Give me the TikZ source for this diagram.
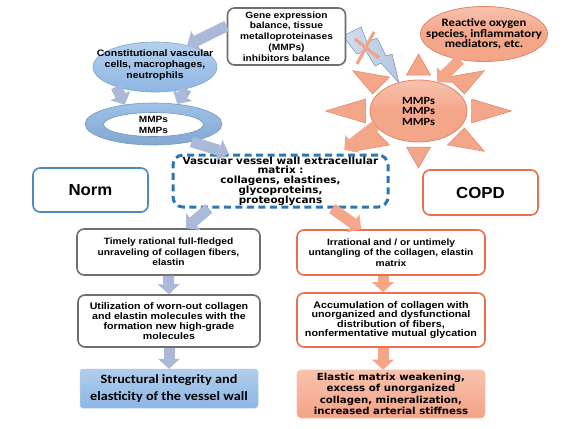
\documentclass[tikz,border=0pt]{standalone}
\usepackage{fontspec}
\usetikzlibrary{shapes.geometric,arrows.meta,calc}
\newfontfamily\fa{Liberation Sans}[FakeStretch=1.12]
\newfontfamily\fnc{Liberation Sans}[FakeStretch=1.05]
\newfontfamily\fc{Carlito}[FakeStretch=1.12]
\newfontfamily\fd{DejaVu Sans}[FakeStretch=1.05]
\definecolor{salm}{HTML}{F4A689}
\definecolor{salmlt}{HTML}{F8C2AE}
\definecolor{salmd}{HTML}{E38466}
\definecolor{salmb}{HTML}{E8704E}
\definecolor{bgray}{HTML}{A9B9D7}
\definecolor{lblue}{HTML}{8DB6E3}
\definecolor{lbluelt}{HTML}{B5D0EE}
\definecolor{dblue}{HTML}{2E75B6}
\definecolor{gbord}{HTML}{6E6E6E}
\definecolor{boltc}{HTML}{B3C7E5}
\begin{document}
\begin{tikzpicture}[x=1pt,y=-1pt,
  txt/.style={font=\fa\bfseries\fontsize{9.6}{10}\selectfont, align=center, inner sep=0pt},
  graybox/.style={draw=gbord, line width=1.6pt, rounded corners=7pt, fill=white, inner sep=0pt, align=center},
  salmbox/.style={draw=salmb, line width=1.6pt, rounded corners=7pt, fill=white, inner sep=0pt, align=center},
  salmell/.style={ellipse, draw=salmd, line width=0.8pt, top color=salmlt, bottom color=salm, middle color=salm, inner sep=0pt},
  blueell/.style={ellipse, draw=lblue!90!black, line width=0.6pt, top color=lbluelt, bottom color=lblue, inner sep=0pt},
  sunray/.style={fill=salm, draw=salmd, line width=0.5pt},
  barrow/.style={line width=11pt, draw=#1, -{Triangle[width=22pt,length=10pt,line width=0pt]}},
]
\useasboundingbox (0,0) rectangle (580,428);
\fill[white] (0,0) rectangle (580,428);

% lightning bolt with cross
\filldraw[left color=boltc!60!white, right color=boltc, draw=boltc!80!black, line width=0.4pt]
  (343,36) -- (361,27) -- (367,42) -- (377,38) -- (386,56) -- (392,54) -- (399,83)
  -- (381,63) -- (375,66) -- (366,51) -- (357,54) -- cycle;
\draw[salm!90!salmd, line width=3.2pt] (374,32) -- (357,64);
\draw[salm!90!salmd, line width=3.2pt] (355,39) -- (379,58);

% gene box
\node[graybox, minimum width=118pt, minimum height=57pt, font=\fa\bfseries\fontsize{9.1}{10.8}\selectfont]
  (gene) at (286.5,36.5) {Gene expression\\balance, tissue\\metalloproteinases\\(MMPs)\\inhibitors balance};

% sun
\coordinate (sunc) at (418.5,111);
\foreach \a in {0,45,...,315}{
  \filldraw[sunray] ($(sunc)+(\a:93pt and 57pt)$) -- ($(sunc)+(\a:53pt and 36pt)+(\a+90:12pt)$)
     -- ($(sunc)+(\a:53pt and 36pt)+(\a-90:12pt)$) -- cycle;
}
\node[salmell, minimum width=97pt, minimum height=62pt] (sun) at (sunc) {};
\node[font=\fc\bfseries\fontsize{11}{10.5}\selectfont, align=center, inner sep=0pt] (sunt) at (sunc) {MMPs\\MMPs\\MMPs};

% reactive oxygen species
\node[salmell, minimum width=127pt, minimum height=55pt] (ros) at (484,34) {};
\node[font=\fc\bfseries\fontsize{11.3}{10.5}\selectfont, align=center, inner sep=0pt] (rost) at (ros) {Reactive oxygen\\species, inflammatory\\mediators, etc.};

% constitutional cells
\node[blueell, minimum width=124pt, minimum height=50pt] (const) at (155,67) {};
\node[txt, font=\fa\bfseries\fontsize{9.4}{11}\selectfont] (constt) at (155,65.5) {Constitutional vascular\\cells, macrophages,\\neutrophils};

% ring
\node[ellipse, draw=lblue!85!black, line width=0.6pt, top color=lblue!85!white, bottom color=lblue!92!black, minimum width=137pt, minimum height=42pt, inner sep=0pt] (ring) at (153.5,124) {};
\node[ellipse, fill=white, draw=lblue!80!black, line width=0.6pt, minimum width=100pt, minimum height=24pt, inner sep=0pt] (ringin) at (153.5,124.5) {};
\node[txt, font=\fa\bfseries\fontsize{9}{11}\selectfont] (ringt) at (ringin) {MMPs\\MMPs};

% matrix
\node[draw=dblue, line width=3pt, dash pattern=on 7pt off 4.5pt, rounded corners=10pt, fill=white,
  minimum width=215pt, minimum height=52pt, inner sep=0pt, align=center,
  font=\fd\bfseries\fontsize{9.9}{9.8}\selectfont] (matrix) at (280.5,181)
  {Vascular vessel wall extracellular\\matrix :\\collagens, elastines,\\glycoproteins,\\proteoglycans};

% Norm and COPD
\node[draw=dblue!85!white, line width=1.6pt, rounded corners=7pt, fill=white, minimum width=115pt, minimum height=44pt,
  inner sep=0pt, font=\fnc\bfseries\fontsize{16}{18}\selectfont] (norm) at (90.5,190) {Norm};
\node[salmbox, minimum width=115pt, minimum height=45pt, font=\fnc\bfseries\fontsize{16}{18}\selectfont] (copd) at (480.5,192.5) {COPD};

% left column
\node[graybox, minimum width=183pt, minimum height=46pt, font=\fa\bfseries\fontsize{9.1}{10.5}\selectfont] (timely) at (168.5,252)
  {Timely rational full-fledged\\unraveling of collagen fibers,\\elastin};
\node[graybox, minimum width=182pt, minimum height=52pt, font=\fa\bfseries\fontsize{9.5}{10}\selectfont] (util) at (169,321)
  {Utilization of worn-out collagen\\and elastin molecules with the\\formation new high-grade\\molecules};
\node[draw=lblue!70!white, line width=0.5pt, rounded corners=3pt, top color=lbluelt!90!lblue, bottom color=lblue, inner sep=0pt,
  minimum width=178pt, minimum height=39pt, align=center, font=\fc\bfseries\fontsize{12.7}{16.5}\selectfont] (struct) at (169,388.5)
  {Structural integrity and\\elasticity of the vessel wall};

% right column
\node[salmbox, minimum width=188pt, minimum height=45pt, font=\fa\bfseries\fontsize{9.1}{10.5}\selectfont] (irr) at (391,252.5)
  {Irrational and / or untimely\\untangling of the collagen, elastin\\matrix};
\node[salmbox, minimum width=188pt, minimum height=54pt, font=\fa\bfseries\fontsize{9.6}{9.6}\selectfont] (accum) at (391,320)
  {Accumulation of collagen with\\unorganized and dysfunctional\\distribution of fibers,\\nonfermentative mutual glycation};
\node[draw=salmlt, line width=0.6pt, rounded corners=4pt, top color=salmlt, bottom color=salm!90!salmd, inner sep=0pt,
  minimum width=188pt, minimum height=48pt, align=center, font=\fd\bfseries\fontsize{9.7}{11.3}\selectfont] (elastic) at (391,394)
  {Elastic matrix weakening,\\excess of unorganized\\collagen, mineralization,\\increased arterial stiffness};

% block arrows
\draw[barrow=bgray] (gene.170) -- (const.34);
\draw[barrow=bgray] (const.207) -- (ring.146);
\draw[barrow=bgray] (const.-35) -- (ring.40);
\draw[barrow=bgray] (ring.-25) -- (matrix.152);
\draw[barrow=bgray] (matrix.201) -- (timely.54);
\draw[barrow=bgray] (timely.south) -- (util.north);
\draw[barrow=bgray] (util.south) -- (struct.north);
\draw[barrow=salm] (ros.227) -- (sun.57);
\draw[barrow=salm, shorten >=6pt] (sun.199) -- (matrix.25);
\draw[barrow=salm] (matrix.-28) -- (irr.142);
\draw[barrow=salm] ([xshift=-8pt]irr.south) -- ([xshift=-8pt]accum.north);
\draw[barrow=salm] ([xshift=-8pt]accum.south) -- ([xshift=-8pt]elastic.north);
\end{tikzpicture}
\end{document}
